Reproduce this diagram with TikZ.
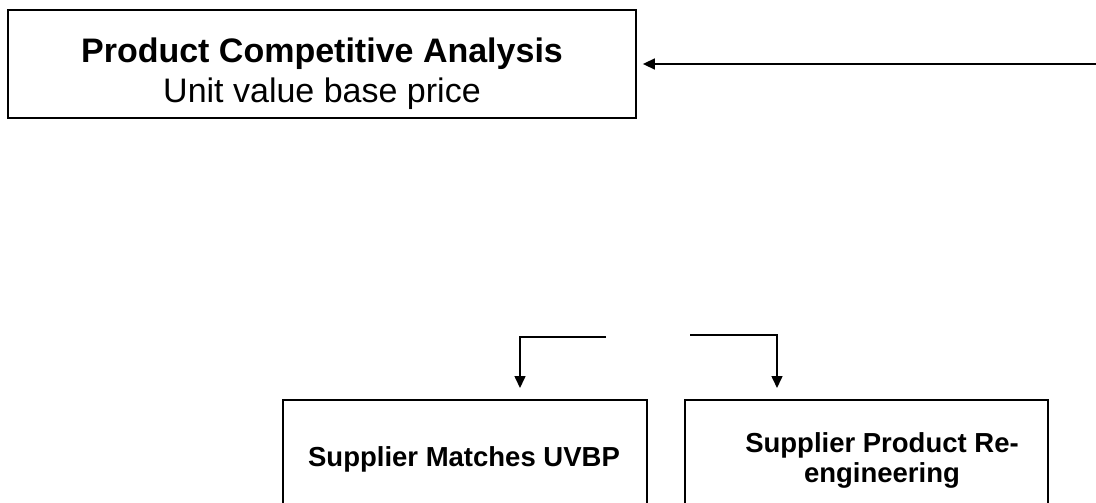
\documentclass[tikz,border=0pt]{standalone}
\usepackage{fontspec}
\setmainfont{Liberation Sans}
\usetikzlibrary{arrows.meta}

\tikzset{
    box/.style={draw, line width=1.8pt, inner sep=0pt},
    boxtext/.style={inner sep=0pt, align=center, anchor=north},
    flow/.style={line width=1.6pt, -{Triangle[length=12pt, width=11pt]}},
}

\begin{document}
\begin{tikzpicture}[x=1pt, y=-1pt]

    \useasboundingbox (0,0) rectangle (1096,503);
    \clip (0,0) rectangle (1096,503);

    % --------------------------
    % 上方分析框
    % --------------------------
    \node[box, minimum width=628pt, minimum height=108pt] (pca) at (322,64) {};
    \node[boxtext, font=\fontsize{34}{40}\selectfont] (pcatext) at (322,37.5)
        {\textbf{Product Competitive Analysis}\\Unit value base price};

    % 右侧回流箭头
    \coordinate (feed) at (1096,64);
    \draw[flow, shorten >=6pt] (feed) -- (pca.east);

    % --------------------------
    % 下方两个供应商框
    % --------------------------
    \node[box, minimum width=364pt, minimum height=130pt] (match) at (465,465) {};
    \node[boxtext, font=\bfseries\fontsize{27.5}{30}\selectfont] (matchtext) at (464,446)
        {Supplier Matches UVBP};

    \node[box, minimum width=363pt, minimum height=130pt] (reeng) at (866.5,465) {};
    \node[boxtext, font=\bfseries\fontsize{27.5}{30}\selectfont] (reengtext) at (882,432)
        {Supplier Product Re-\\engineering};

    % 分叉箭头
    \coordinate (splitL) at (606,337);
    \coordinate (splitR) at (690,335);
    \coordinate (leftin) at (520,388);
    \coordinate (rightin) at (777,388);
    \draw[flow] (splitL) -| (leftin);
    \draw[flow] (splitR) -| (rightin);

\end{tikzpicture}
\end{document}
